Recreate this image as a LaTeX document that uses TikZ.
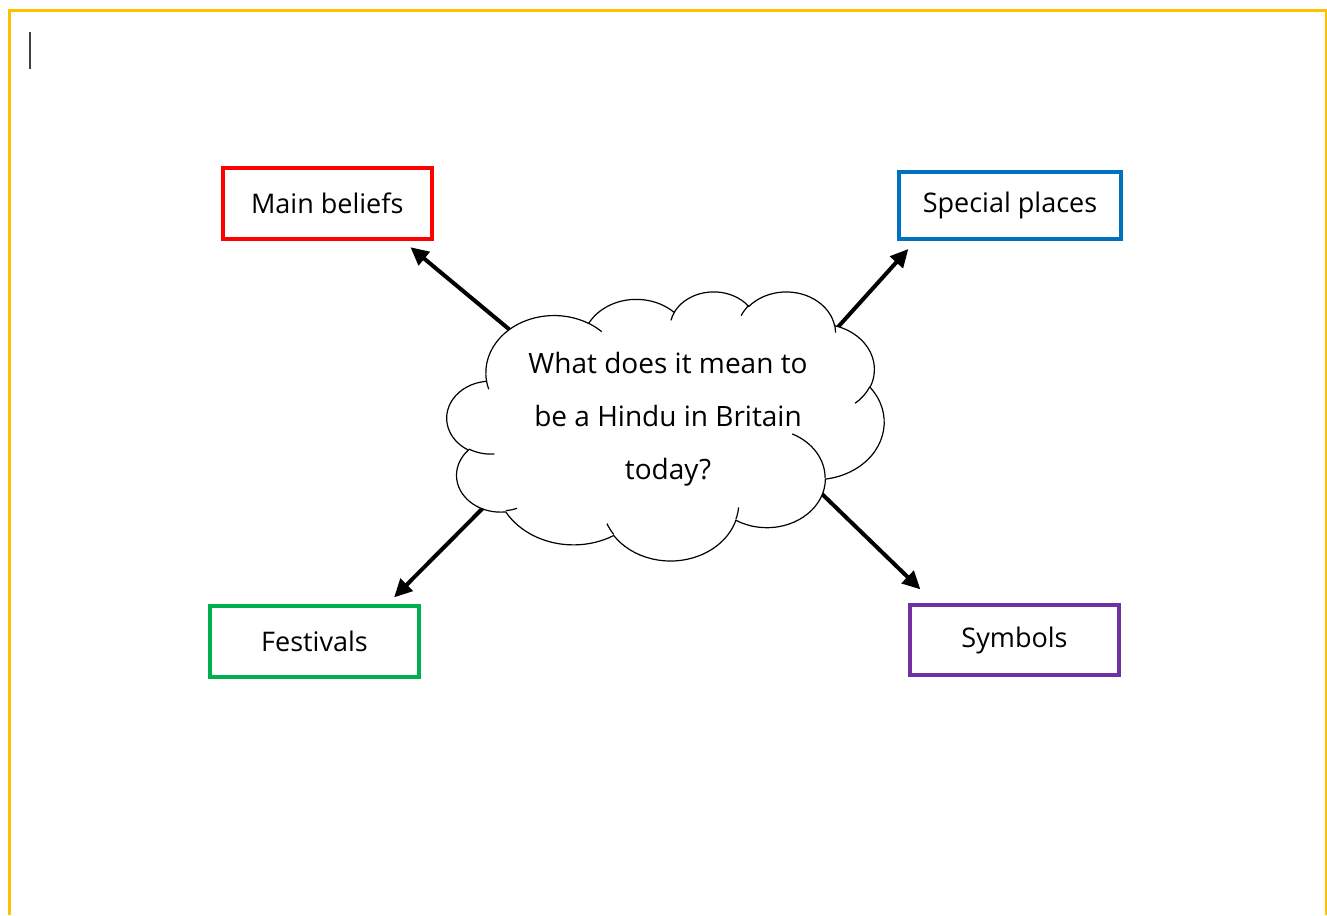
\documentclass[tikz,border=0pt]{standalone}
\usepackage{fontspec}
\setmainfont{Open Sans}
\usetikzlibrary{arrows.meta}
\definecolor{bordery}{HTML}{FFC000}
\definecolor{cred}{HTML}{FF0000}
\definecolor{cblue}{HTML}{0070C0}
\definecolor{cgreen}{HTML}{00B050}
\definecolor{cpurple}{HTML}{7030A0}
\tikzset{
  topicbox/.style={draw=#1, line width=4pt, fill=white, inner sep=0pt, font=\fontsize{27}{32}\selectfont},
  cloudline/.style={draw=black, line width=1.2pt},
  pointer/.style={draw=black, line width=4pt, -{Triangle[length=18pt,width=17pt]}, shorten >=-2pt},
}
\begin{document}
\begin{tikzpicture}[x=1pt, y=-1pt]
\useasboundingbox (0,0) rectangle (1327,915);
% page border
\draw[bordery, line width=3pt] (9,915) -- (9,11) -- (1327,11);
\draw[bordery, line width=1.5pt] (1326,11) -- (1326,915);
% text cursor
\draw[black!75, line width=2pt] (30,32) -- (30,69);

% boxes
\node[topicbox=cred, minimum width=208.5pt, minimum height=71pt] (mb) at (327.25,203.5) {Main beliefs};
\node[topicbox=cblue, minimum width=222pt, minimum height=67pt] (sp) at (1010,205.5) {Special places};
\node[topicbox=cgreen, minimum width=209pt, minimum height=71pt] (fe) at (314.5,641.5) {Festivals};
\node[topicbox=cpurple, minimum width=209pt, minimum height=70pt] (sy) at (1014.5,640) {Symbols};

% arrow end points
\coordinate (mbs) at (510,330);  \coordinate (mbe) at (412,248.5);
\coordinate (sps) at (838,327);  \coordinate (spe) at (907,250.5);
\coordinate (fes) at (485,506);  \coordinate (fee) at (395.5,596);
\coordinate (sys) at (821.5,493.5); \coordinate (sye) at (919,588);
\draw[pointer] (mbs) -- (mbe);
\draw[pointer] (sps) -- (spe);
\draw[pointer] (fes) -- (fee);
\draw[pointer] (sys) -- (sye);

% cloud
\begin{scope}[shift={(447,291)}, x=1.01157pt, y=-0.62269pt]
\path[cloudline, fill=white] (39.00,143.70)
 arc[start angle=-187.75, end angle=-59.63, x radius=67.53, y radius=91.90]
 arc[start angle=-152.03, end angle=-45.42, x radius=53.33, y radius=72.67]
 arc[start angle=-153.48, end angle=-37.32, x radius=43.65, y radius=59.45]
 arc[start angle=-139.71, end angle=-10.21, x radius=48.57, y radius=65.95]
 arc[start angle=-74.77, end angle=23.21, x radius=53.33, y radius=72.73]
 arc[start angle=-37.52, end angle=81.86, x radius=67.75, y radius=92.20]
 arc[start angle=0.46, end angle=121.98, x radius=57.85, y radius=78.67]
 arc[start angle=16.84, end angle=146.25, x radius=67.52, y radius=92.15]
 arc[start angle=58.98, end angle=150.19, x radius=77.20, y radius=105.43]
 arc[start angle=83.31, end angle=223.13, x radius=43.60, y radius=59.18]
 arc[start angle=120.36, end angle=264.11, x radius=43.45, y radius=59.45]
 -- cycle;
\path[cloudline]
 (46.93,261.77) arc[start angle=85.55, end angle=120.36, x radius=43.45, y radius=59.45]
 (69.28,348.99) arc[start angle=68.24, end angle=83.31, x radius=43.60, y radius=59.18]
 (164.78,390.90) arc[start angle=146.25, end angle=158.47, x radius=67.52, y radius=92.15]
 (288.27,347.51) arc[start angle=4.74, end angle=16.84, x radius=67.52, y radius=92.15]
 (341.29,229.54) arc[start angle=-64.02, end angle=0.46, x radius=57.85, y radius=78.67]
 (417.98,153.54) arc[start angle=23.21, end angle=49.65, x radius=53.33, y radius=72.73]
 (383.24,54.26) arc[start angle=-10.21, end angle=0.82, x radius=48.57, y radius=65.95]
 (290.78,39.52) arc[start angle=-156.29, end angle=-139.71, x radius=48.57, y radius=65.95]
 (221.41,47.20) arc[start angle=-167.73, end angle=-153.48, x radius=43.65, y radius=59.45]
 (140.00,51.92) arc[start angle=-59.63, end angle=-45.74, x radius=67.53, y radius=91.90]
 (41.27,157.89) arc[start angle=163.19, end angle=172.25, x radius=67.53, y radius=91.90];
\end{scope}
\node[align=center, inner sep=0pt, font=\fontsize{28}{53}\selectfont] (q) at (668,419) {What does it mean to\\be a Hindu in Britain\\today?};
\end{tikzpicture}
\end{document}
